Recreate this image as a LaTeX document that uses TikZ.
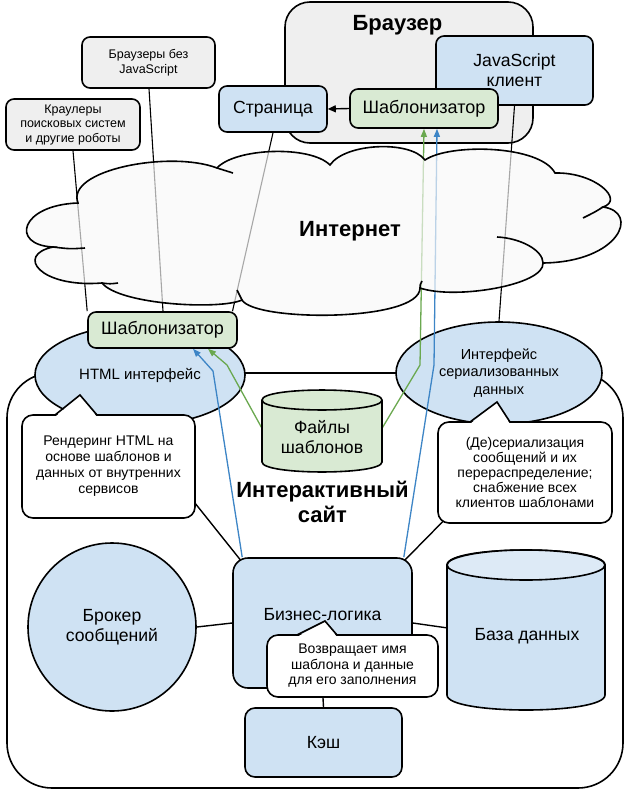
\documentclass[tikz,border=0pt]{standalone}
\usepackage{fontspec}
\setmainfont{Liberation Sans}
\usetikzlibrary{arrows.meta,calc,shapes.geometric}
\pgfdeclarelayer{layA}
\pgfdeclarelayer{layB}
\pgfdeclarelayer{layC}
\pgfdeclarelayer{layD}
\pgfsetlayers{layA,layB,layC,layD,main}
\definecolor{lblue}{HTML}{CFE2F3}
\definecolor{lbluetop}{HTML}{DDEAF6}
\definecolor{lgreen}{HTML}{D9EAD3}
\definecolor{lgray}{HTML}{EFEFEF}
\definecolor{agreen}{HTML}{6AA84F}
\definecolor{ablue}{HTML}{3D85C6}
\definecolor{cloudgray}{HTML}{F7F7F7}
\begin{document}
\begin{tikzpicture}[x=1pt,y=-1pt,
  shp/.style={draw=black, line width=1.6pt},
  rbox/.style={shp, rounded corners=8pt, inner sep=0pt, align=center, font=\fontsize{17.6}{20}\selectfont},
  note/.style={shp, rounded corners=8pt, inner sep=0pt, align=center, fill=lgray, font=\fontsize{12.5}{14.5}\selectfont},
  bubble/.style={shp, fill=white, rounded corners=11pt, inner sep=0pt, align=center},
  conn/.style={draw=black, line width=1.4pt},
  thinln/.style={draw=black, line width=1.1pt},
  gline/.style={draw=agreen, line width=1.3pt, -{Triangle[length=8pt,width=6pt]}},
  bline/.style={draw=ablue, line width=1.3pt, -{Triangle[length=8pt,width=6pt]}},
  ttl/.style={font=\bfseries\fontsize{22}{25}\selectfont, align=center, inner sep=0pt},
  cloudst/.style={draw=black, line width=1.6pt, fill=cloudgray, fill opacity=0.68},
  hook/.style={draw=black, line width=1.6pt},
  txt/.style={inner sep=0pt, align=center, font=\fontsize{17.6}{20}\selectfont}]
\useasboundingbox (0,0) rectangle (630,797);

% ---------- top nodes ----------
\node[note, minimum width=134pt, minimum height=51pt] (crawl) at (73,124.5) {Краулеры\\поисковых систем\\и другие роботы};
\node[note, minimum width=133pt, minimum height=51pt] (nojs) at (148.5,62.5) {Браузеры без\\JavaScript};
\node[rbox, fill=lblue, minimum width=108pt, minimum height=46pt] (page) at (273,109) {Страница};
\node[rbox, fill=lblue, minimum width=157pt, minimum height=69pt] (jsc) at (514.5,70.5) {JavaScript\\клиент};
\node[rbox, fill=lgreen, minimum width=148pt, minimum height=39pt, font=\fontsize{18}{20}\selectfont] (tpltop) at (424,108.5) {Шаблонизатор};
\node[ttl] (brtitle) at (397.5,25) {Браузер};
\node[ttl] (nettitle) at (350,231) {Интернет};
\node[rbox, fill=lgreen, minimum width=149pt, minimum height=36pt, font=\fontsize{18}{20}\selectfont] (tpllow) at (162.5,330) {Шаблонизатор};

% ---------- bubbles ----------
\node[bubble, font=\fontsize{14}{16}\selectfont, minimum width=173pt, minimum height=103pt] (b1) at (108.5,466.5) {Рендеринг HTML на\\основе шаблонов и\\данных от внутренних\\сервисов};
\fill[white] (55,417) -- (80,395) -- (97,417) -- cycle;
\draw[shp, line join=miter] (55,415) -- (80,395) -- (97,415);

\node[bubble, font=\fontsize{14}{15.2}\selectfont, minimum width=174pt, minimum height=101pt] (b2) at (525,472.5) {(Де)сериализация\\сообщений и их\\перераспределение;\\снабжение всех\\клиентов шаблонами};
\fill[white] (470,424) -- (497,402) -- (510,424) -- cycle;
\draw[shp, line join=miter] (470,422) -- (497,402) -- (510,422);

% ---------- inside the site ----------
\node[shp, fill=lblue, rounded corners=15pt, minimum width=179pt, minimum height=130pt] (biz) at (322.5,623) {};
\node[txt] (biztext) at (322.5,615) {Бизнес-логика};
\node[bubble, font=\fontsize{14}{15.5}\selectfont, minimum width=171pt, minimum height=62pt] (b3) at (352.5,666) {Возвращает имя\\шаблона и данные\\для его заполнения};
\fill[white] (297,637) -- (325,621) -- (337,637) -- cycle;
\draw[shp, line join=miter] (297,635) -- (325,621) -- (337,635);

\node[rbox, fill=lblue, rounded corners=10pt, minimum width=157pt, minimum height=69pt] (kesh) at (323.5,742.5) {Кэш};
\node[shp, circle, fill=lblue, minimum size=168pt, inner sep=0pt, align=center, font=\fontsize{17.6}{20}\selectfont] (broker) at (112,627) {Брокер\\сообщений};

% database cylinder
\filldraw[shp, fill=lblue] (447,565) -- (447,695) .. controls (447,715) and (605,715) .. (605,695) -- (605,565) .. controls (605,545) and (447,545) .. (447,565) -- cycle;
\filldraw[shp, fill=lbluetop] (526,565) ellipse [x radius=79pt, y radius=15pt];
\node[txt, minimum width=158pt] (db) at (527,636) {База данных};

% template files cylinder
\filldraw[shp, fill=lgreen] (262,400) -- (262,462) .. controls (262,475.3) and (382,475.3) .. (382,462) -- (382,400) .. controls (382,386.7) and (262,386.7) .. (262,400) -- cycle;
\draw[shp] (262,400) .. controls (262,413.3) and (382,413.3) .. (382,400);
\node[txt, minimum width=120pt] (files) at (322,437) {Файлы\\шаблонов};

\node[ttl] (sitetitle) at (322.5,502) {Интерактивный\\сайт};

% ---------- ellipses ----------
\begin{pgfonlayer}{layB}
\node[shp, ellipse, fill=lblue, minimum width=210pt, minimum height=100pt, inner sep=0pt, align=center, font=\fontsize{15}{17}\selectfont] (htmlif) at (140,375) {HTML интерфейс};
\node[shp, ellipse, fill=lblue, minimum width=206pt, minimum height=102pt, inner sep=0pt, align=center, font=\fontsize{14.5}{17.5}\selectfont] (serif) at (499,373) {Интерфейс\\сериализованных\\данных};
\end{pgfonlayer}

% ---------- containers ----------
\begin{pgfonlayer}{layA}
\node[shp, fill=white, rounded corners=45pt, minimum width=616pt, minimum height=415pt] (site) at (315,580.5) {};
\node[shp, fill=lgray, rounded corners=25pt, minimum width=248pt, minimum height=141pt] (browser) at (409,72.5) {};
\end{pgfonlayer}

% ---------- connectors ----------
\begin{pgfonlayer}{layC}
\draw[thinln] (crawl.south) -- (tpllow.north west);
\draw[thinln] ([xshift=0.5pt]nojs.south) -- ([xshift=0.5pt]tpllow.north);
\draw[thinln] (page.south) -- ([xshift=70pt]tpllow.north);
\draw[thinln] (jsc.south) -- (serif.north);
\draw[conn, -{Triangle[length=8pt,width=7pt]}] (tpltop.west) -- (page.east);

\coordinate (r1) at (167,468);
\coordinate (r2) at (462,502);
\draw[conn] (r1) -- ([xshift=10pt,yshift=-5pt]biz.north west);
\draw[conn] (r2) -- ([xshift=-10pt,yshift=-5pt]biz.north east);
\draw[conn] (broker.east) -- (biz.west);
\draw[conn] (biz.east) -- ([yshift=8pt]db.west);
\draw[conn] (biz.south) -- (kesh.north);

\draw[gline] ([yshift=9pt]files.west) -- (227,365) -- ([xshift=45.5pt]tpllow.south);
\draw[bline] ([xshift=10pt]biz.north west) -- (213,371) -- ([xshift=30.5pt]tpllow.south);
\draw[gline] ([yshift=9pt]files.east) -- (420,365) -- (tpltop.south);
\draw[bline] ([xshift=-9pt]biz.north east) -- (434,365) -- ([xshift=13pt]tpltop.south);
\end{pgfonlayer}

% ---------- cloud ----------
\begin{pgfonlayer}{layD}
\path[cloudst] (78,203) .. controls (65,170) and (170,150) .. (217,168)
  .. controls (235,148) and (310,145) .. (330,165)
  .. controls (345,143) and (410,140) .. (425,160)
  .. controls (450,143) and (540,145) .. (555,173)
  .. controls (595,172) and (625,200) .. (603,207)
  .. controls (640,212) and (620,262) .. (543,263)
  .. controls (545,285) and (455,300) .. (420,288)
  .. controls (420,322) and (255,322) .. (242,300)
  .. controls (220,310) and (120,305) .. (102,283)
  .. controls (40,288) and (15,255) .. (53,247)
  .. controls (10,245) and (20,205) .. (78,203) -- cycle;
\draw[hook] (217,168) .. controls (225,170) .. (233,173);
\draw[hook] (53,247) .. controls (70,249) .. (85,248);
\draw[hook] (102,283) .. controls (110,284) .. (118,283);
\draw[hook] (242,300) .. controls (239,295) .. (237,290);
\draw[hook] (420,288) .. controls (420,285) .. (422,281);
\draw[hook] (543,263) .. controls (543,250) and (520,238) .. (497,237);
\draw[hook] (603,207) .. controls (595,212) .. (583,218);
\end{pgfonlayer}
\end{tikzpicture}
\end{document}
